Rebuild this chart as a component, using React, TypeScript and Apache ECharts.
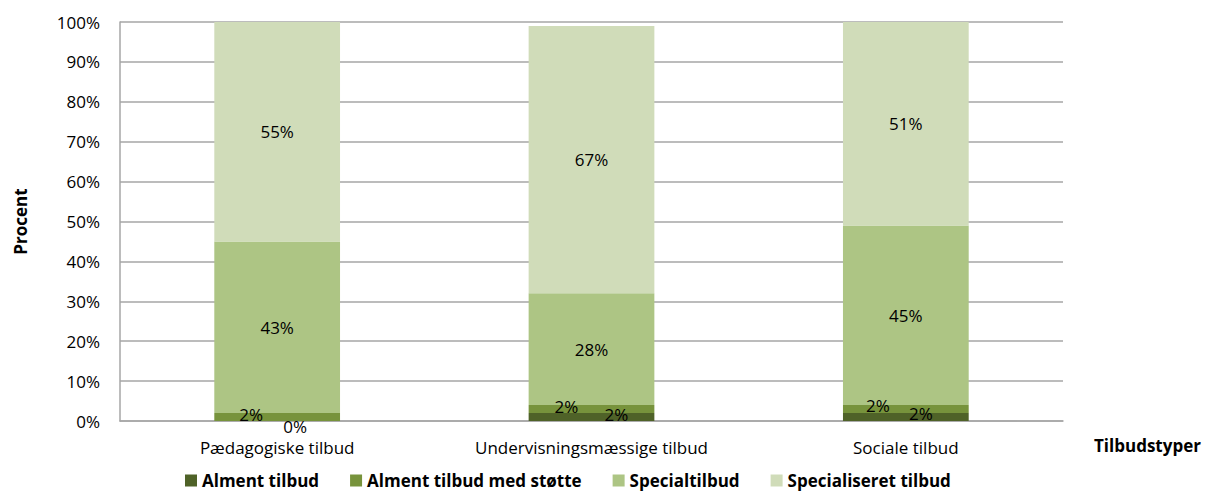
import React, { useEffect, useRef } from "react";
import * as echarts from "echarts";

const categories = ["Pædagogiske tilbud", "Undervisningsmæssige tilbud", "Sociale tilbud"];
const seriesNames = ["Alment tilbud", "Alment tilbud med støtte", "Specialtilbud", "Specialiseret tilbud"];
const alment = [0, 2, 2];
const almentMedStotte = [2, 2, 2];
const special = [43, 28, 45];
const specialiseret = [55, 67, 51];
const colors = ["#4f6228", "#77933c", "#adc584", "#d0dcb9"];
const yTicks = [0, 10, 20, 30, 40, 50, 60, 70, 80, 90, 100];

// label offsets for the small stacked segments (as in the source picture)
const almentOffsets: number[][] = [[18, 5], [25, -3], [15, -4]];
const stotteOffsets: number[][] = [[-26, -3], [-25, -3], [-28, -4]];

const FONT = "'Open Sans', sans-serif";
const FS = 17;

export default function App() {
  const ref = useRef<HTMLDivElement>(null);
  useEffect(() => {
    if (!ref.current) return;
    const chart = echarts.init(ref.current, null, { renderer: "svg" });
    const label = {
      show: true,
      position: "inside" as const,
      formatter: (p: any) => `${p.value}%`,
      color: "#000",
      fontSize: FS,
      fontFamily: FONT,
    };
    const mk = (vals: number[], offsets?: number[][]) =>
      vals.map((v, i) => (offsets ? { value: v, label: { offset: offsets[i] } } : v));
    const dataSets = [mk(alment, almentOffsets), mk(almentMedStotte, stotteOffsets), mk(special), mk(specialiseret)];
    chart.setOption({
      animation: false,
      textStyle: { fontFamily: FONT },
      grid: { left: 120, right: 156, top: 22, bottom: 76, outerBoundsMode: "none", containLabel: false },
      legend: {
        data: seriesNames,
        left: 180,
        top: 472,
        padding: [0, 5, 0, 5],
        itemWidth: 12,
        itemHeight: 12,
        itemGap: 31,
        icon: "rect",
        textStyle: { fontSize: FS, fontWeight: "bold", color: "#000", fontFamily: FONT },
      },
      xAxis: {
        type: "category",
        data: categories,
        axisLine: { lineStyle: { color: "#a6a6a6", width: 1.5 } },
        axisTick: { show: false },
        axisLabel: { fontSize: FS, color: "#000", margin: 18, fontFamily: FONT },
      },
      yAxis: {
        type: "value",
        min: 0,
        max: 100,
        interval: 10,
        name: "Procent",
        nameLocation: "middle",
        nameGap: 91,
        nameTextStyle: { fontSize: FS, fontWeight: "bold", color: "#000", fontFamily: FONT },
        axisLine: { show: true, lineStyle: { color: "#a6a6a6", width: 1.5 } },
        axisTick: { show: false },
        splitLine: { lineStyle: { color: "#a6a6a6", width: 1.5 } },
        axisLabel: {
          fontSize: FS,
          color: "#000",
          margin: 20,
          fontFamily: FONT,
          formatter: (v: number) => (yTicks.includes(v) ? `${v}%` : ""),
        },
      },
      graphic: [
        {
          type: "text",
          left: 1094,
          top: 437,
          style: { text: "Tilbudstyper", fontSize: FS, fontWeight: "bold", fill: "#000", fontFamily: FONT },
        },
      ],
      series: dataSets.map((d, i) => ({
        name: seriesNames[i],
        type: "bar",
        stack: "total",
        barWidth: "40%",
        itemStyle: { color: colors[i] },
        label,
        data: d,
      })),
    });
    return () => chart.dispose();
  }, []);
  return <div ref={ref} style={{ position: "absolute", left: 0, top: 0, width: 1219, height: 497 }} />;
}
